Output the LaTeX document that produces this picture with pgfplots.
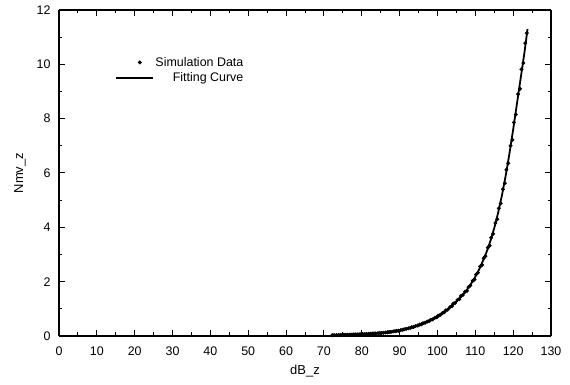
\documentclass[border=0pt]{standalone}
\usepackage{pgfplots}
\pgfplotsset{compat=1.18}
\usepackage{fontspec}
\setmainfont{Liberation Sans}
\begin{document}
\begin{tikzpicture}
\begin{axis}[
  width=492bp, height=326bp, scale only axis,
  xmin=0, xmax=130, ymin=0, ymax=12,
  xtick={0,10,...,130}, ytick={0,2,...,12},
  minor x tick num=1, minor y tick num=1,
  tick align=inside,
  major tick length=6bp, minor tick length=3.5bp,
  separate axis lines,
  axis line style={line width=1.2pt, black},
  every tick/.style={black, line width=1pt},
  tick label style={font=\fontsize{12.5}{14}\selectfont},
  /pgf/number format/assume math mode=true,
  yticklabel style={xshift=-5bp},
  xticklabel style={yshift=-7bp},
  xlabel={dB\_z}, ylabel={Nmv\_z},
  label style={font=\fontsize{13}{15}\selectfont},
  xlabel style={at={(axis description cs:0.5,-0.108)}, anchor=center},
  ylabel style={at={(axis description cs:-0.0793,0.5)}, anchor=center},
  legend style={at={(rel axis cs:0.1138,0.862)}, anchor=north west, draw=none, fill=none,
    font=\fontsize{12.5}{15}\selectfont, row sep=1bp, inner sep=0pt},
  legend cell align=right,
]
\addplot[only marks, mark=*, mark size=1.8pt, black,
  legend image code/.code={\fill[black] (24bp,0) circle (1.8bp);}]
coordinates {
(72.2,0.027) (72.7,0.031) (73.3,0.032) (73.8,0.033) (74.3,0.039) (74.8,0.038)
(75.3,0.044) (75.8,0.045) (76.3,0.047) (76.9,0.052) (77.4,0.051) (77.9,0.057)
(78.3,0.058) (78.8,0.061) (79.3,0.064) (79.8,0.067) (80.2,0.072) (80.7,0.073)
(81.2,0.079) (81.8,0.079) (82.3,0.085) (82.8,0.087) (83.2,0.094) (83.7,0.096)
(84.3,0.104) (84.8,0.107) (85.2,0.115) (85.7,0.118) (86.3,0.13) (86.8,0.136)
(87.2,0.146) (87.7,0.151) (88.3,0.166) (88.8,0.175) (89.2,0.188) (89.7,0.195)
(90.3,0.218) (90.8,0.228) (91.2,0.248) (91.7,0.259) (92.3,0.282) (92.8,0.298)
(93.2,0.322) (93.7,0.337) (94.2,0.365) (94.8,0.385) (95.3,0.418) (95.8,0.434)
(96.2,0.47) (96.7,0.487) (97.3,0.531) (97.8,0.548) (98.2,0.595) (98.7,0.61)
(99.3,0.668) (99.8,0.69) (100.2,0.745) (100.7,0.77) (101.3,0.84) (101.8,0.875)
(102.2,0.94) (102.7,0.97) (103.3,1.06) (103.8,1.10) (104.2,1.19) (104.7,1.22)
(105.3,1.33) (105.8,1.36) (106.2,1.47) (106.7,1.51) (107.3,1.63) (107.8,1.66)
(108.2,1.80) (108.7,1.86) (109.3,2.03) (109.8,2.08) (110.2,2.26) (110.7,2.33)
(111.3,2.56) (111.8,2.62) (112.2,2.86) (112.7,2.94) (113.3,3.25) (113.8,3.33)
(114.2,3.62) (114.7,3.76) (115.3,4.16) (115.8,4.30) (116.2,4.70) (116.7,4.88)
(117.3,5.40) (117.8,5.62) (118.2,6.12) (118.7,6.36) (119.3,7.00) (119.8,7.22)
(120.2,7.86) (120.7,8.15) (121.3,8.90) (121.8,9.10) (122.2,9.82) (122.7,10.05)
(123.2,10.78) (123.6,11.15)
};
\addlegendentry{Simulation Data}
\addplot[black, line width=1.8pt, no marks,
  legend image code/.code={\draw[black, line width=1.3pt] (0bp,0) -- (37bp,0);}]
coordinates {
(72,0.026) (73,0.03) (74,0.035) (75,0.04) (76,0.045) (77,0.05) (78,0.055) (79,0.06)
(80,0.07) (81,0.075) (82,0.08) (83,0.09) (84,0.10) (85,0.11) (86,0.125) (87,0.14)
(88,0.16) (89,0.18) (90,0.21) (91,0.24) (92,0.27) (93,0.31) (94,0.35) (95,0.40)
(96,0.45) (97,0.51) (98,0.57) (99,0.64) (100,0.72) (101,0.81) (102,0.91) (103,1.02)
(104,1.15) (105,1.28) (106,1.42) (107,1.57) (108,1.74) (109,1.95) (110,2.18)
(111,2.45) (112,2.76) (113,3.10) (114,3.50) (115,3.97) (116,4.52) (117,5.15)
(118,5.88) (119,6.70) (120,7.60) (121,8.55) (122,9.50) (123,10.45) (123.8,11.3)
};
\addlegendentry{Fitting Curve}
\end{axis}
\pgfresetboundingbox
\path ([shift={(-59bp,-49bp)}]current axis.south west) rectangle ([shift={(19bp,10bp)}]current axis.north east);
\end{tikzpicture}
\end{document}
